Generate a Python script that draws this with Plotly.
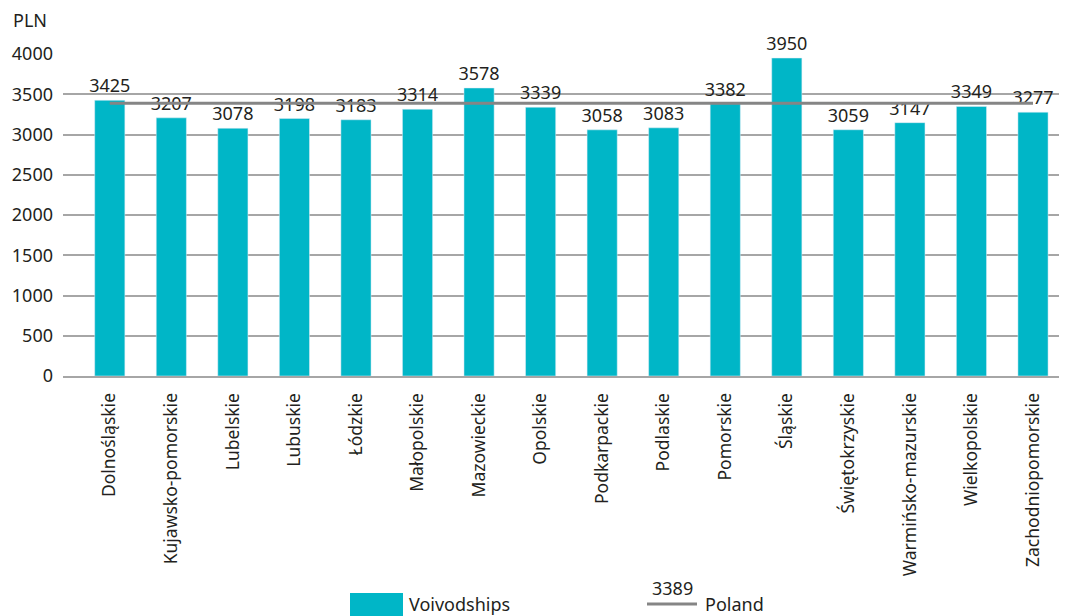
import plotly.graph_objects as go

categories = ["Dolnośląskie", "Kujawsko-pomorskie", "Lubelskie", "Lubuskie", "Łódzkie",
              "Małopolskie", "Mazowieckie", "Opolskie", "Podkarpackie", "Podlaskie",
              "Pomorskie", "Śląskie", "Świętokrzyskie", "Warmińsko-mazurskie",
              "Wielkopolskie", "Zachodniopomorskie"]
values = [3425, 3207, 3078, 3198, 3183, 3314, 3578, 3339, 3058, 3083, 3382, 3950,
          3059, 3147, 3349, 3277]
poland_value = 3389
y_ticks = [0, 500, 1000, 1500, 2000, 2500, 3000, 3500, 4000]

FONT = "Noto Sans"
TEXT = "#231f20"
TEAL = "#00b6c7"
GRAY_LINE = "#858585"

fig = go.Figure()
fig.add_trace(go.Bar(
    x=categories, y=values, marker_color=TEAL, width=0.49,
    text=[str(v) for v in values], textposition="outside",
    textfont=dict(family=FONT, size=18, color=TEXT),
    constraintext="none", cliponaxis=False, name="Voivodships", showlegend=False,
))
fig.add_trace(go.Scatter(
    x=[categories[0], categories[-1]], y=[poland_value, poland_value],
    mode="lines", line=dict(color=GRAY_LINE, width=3), name="Poland", showlegend=False,
))

# page has an 8px body margin: figure origin sits at (8, 8) on the page
OFF = 8
W, H = 1067, 616
ml, mt = 63 - OFF, 54 - OFF
mr = W - (1065 - OFF)
mb = H - (376 - OFF)
pw, ph = W - ml - mr, H - mt - mb


def px(x):
    return (x - OFF - ml) / pw


def py(y):
    return (H - mb - (y - OFF)) / ph


LEG_Y = 604  # legend row centre on the page
shapes = [
    dict(type="rect", xref="paper", yref="paper", x0=px(350), x1=px(403), y0=py(622), y1=py(593),
         fillcolor=TEAL, line=dict(width=0)),
    dict(type="line", xref="paper", yref="paper", x0=px(647), x1=px(697), y0=py(LEG_Y), y1=py(LEG_Y),
         line=dict(color=GRAY_LINE, width=3)),
]
annotations = [
    dict(text="PLN", xref="paper", yref="paper", x=px(11), y=py(20), xanchor="left", yanchor="middle",
         showarrow=False, font=dict(family=FONT, size=18, color=TEXT)),
    dict(text="Voivodships", xref="paper", yref="paper", x=px(407), y=py(LEG_Y), xanchor="left",
         yanchor="middle", showarrow=False, font=dict(family=FONT, size=18, color=TEXT)),
    dict(text="Poland", xref="paper", yref="paper", x=px(703), y=py(LEG_Y), xanchor="left",
         yanchor="middle", showarrow=False, font=dict(family=FONT, size=18, color=TEXT)),
    dict(text=str(poland_value), xref="paper", yref="paper", x=px(672), y=py(LEG_Y - 16),
         xanchor="center", yanchor="middle", showarrow=False,
         font=dict(family=FONT, size=18, color=TEXT)),
]

fig.update_layout(
    width=W, height=H, margin=dict(l=ml, r=mr, t=mt, b=mb, autoexpand=False),
    plot_bgcolor="white", paper_bgcolor="white",
    shapes=shapes, annotations=annotations, bargap=0.5,
    font=dict(family=FONT, size=18, color=TEXT),
    xaxis=dict(range=[-0.76, 15.52], tickangle=-90, showgrid=False, showline=True,
               linecolor="#a6a6a6", linewidth=2, ticks="", ticklabelstandoff=8,
               tickfont=dict(family=FONT, size=17.5, color=TEXT)),
    yaxis=dict(range=[0, 4000], tickvals=y_ticks, showgrid=True, gridcolor="#a6a6a6",
               gridwidth=1.5, zeroline=False, showline=False, ticks="",
               ticklabelstandoff=9, tickfont=dict(family=FONT, size=18, color=TEXT)),
)

fig.write_html("out.html")
